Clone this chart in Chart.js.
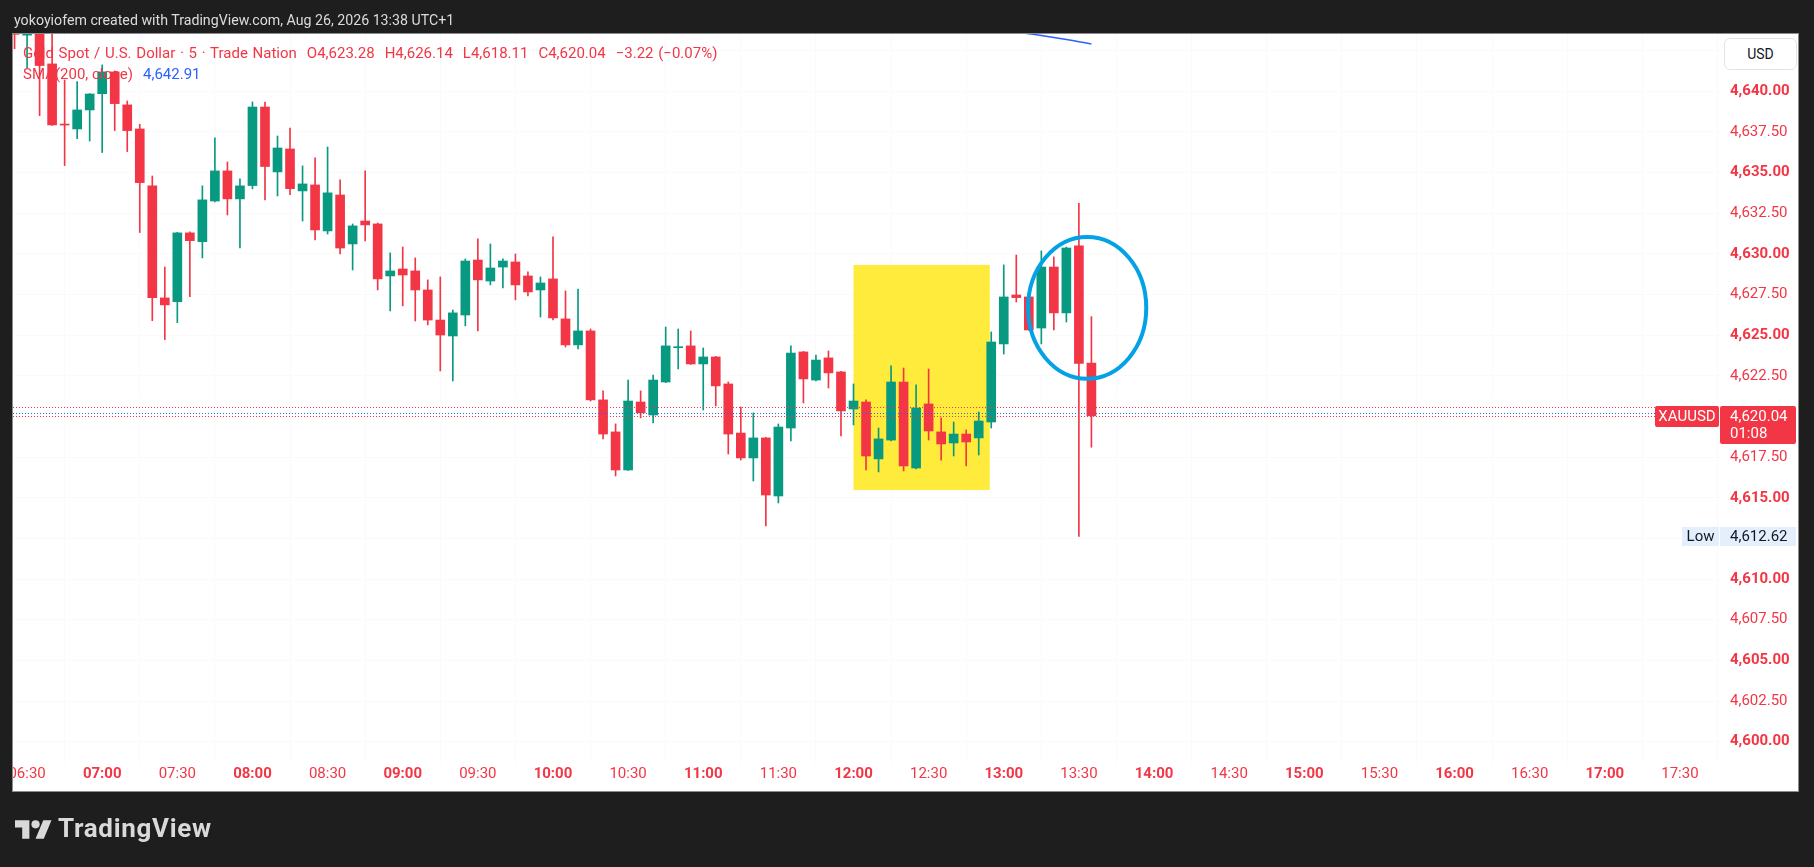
<!DOCTYPE html>
<html>
<head>
<meta charset="utf-8">
<title>XAUUSD 5m</title>
<script src="https://cdn.jsdelivr.net/npm/chart.js@4.4.1/dist/chart.umd.min.js"></script>
<style>
  html, body { margin: 0; padding: 0; background: #1e1e1e; }
  body { width: 1814px; height: 867px; position: relative; overflow: hidden; font-family: Roboto, "Noto Sans", sans-serif; }
  #chart { position: absolute; left: 0; top: 0; }
  .ov { position: absolute; white-space: nowrap; }
  #header { left: 14px; top: 10px; color: #dcdcdc; font-size: 14.2px; line-height: 20px; }
  #legend1, #legend2 { left: 23px; color: #f23645; font-size: 15px; line-height: 18px; }
  #legend1 { top: 44px; word-spacing: 1px; }
  #legend2 { top: 65px; }
  #legend1 span + span, #legend2 span + span { margin-left: 10px; }
  #smaVal { color: #2962ff; }
  #usd { left: 1724px; top: 38px; width: 71px; height: 30px; border: 1px solid #e0e3eb; border-radius: 6px;
         background: #fff; color: #131722; font-size: 14px; line-height: 30px; text-align: center; }
  #logo { left: 15px; top: 815px; color: #d9d9d9; font-size: 26px; line-height: 26px; font-weight: bold; letter-spacing: 0.7px; }
  #logo svg { position: absolute; left: 0; top: 5px; }
  #logo span { position: absolute; left: 43px; top: 0; }
</style>
</head>
<body>
<canvas id="chart" width="1814" height="867"></canvas>
<div class="ov" id="header">yokoyiofem created with TradingView.com, Aug 26, 2026 13:38 UTC+1</div>
<div class="ov" id="legend1"></div>
<div class="ov" id="legend2"></div>
<div class="ov" id="usd">USD</div>
<div class="ov" id="logo">
  <svg width="37" height="19" viewBox="0 4 36 18"><path d="M14 22H7V11H0V4h14v18zM28 22h-8l7.5-18h8L28 22z" fill="#d9d9d9"/><circle cx="20" cy="8" r="4" fill="#d9d9d9"/></svg>
  <span>TradingView</span>
</div>
<script>
// 5 minute candles, Gold Spot / U.S. Dollar
const candleTimes = [
  '06:25','06:30','06:35','06:40','06:45','06:50','06:55',
  '07:00','07:05','07:10','07:15','07:20','07:25','07:30','07:35','07:40','07:45','07:50','07:55',
  '08:00','08:05','08:10','08:15','08:20','08:25','08:30','08:35','08:40','08:45','08:50','08:55',
  '09:00','09:05','09:10','09:15','09:20','09:25','09:30','09:35','09:40','09:45','09:50','09:55',
  '10:00','10:05','10:10','10:15','10:20','10:25','10:30','10:35','10:40','10:45','10:50','10:55',
  '11:00','11:05','11:10','11:15','11:20','11:25','11:30','11:35','11:40','11:45','11:50','11:55',
  '12:00','12:05','12:10','12:15','12:20','12:25','12:30','12:35','12:40','12:45','12:50','12:55',
  '13:00','13:05','13:10','13:15','13:20','13:25','13:30','13:35'
];
const opens = [
  4645.00, 4643.45, 4644.30, 4641.68, 4637.98, 4637.68, 4638.85,
  4639.85, 4641.19, 4639.16, 4637.68, 4634.18, 4627.29, 4627.06, 4631.29, 4630.75, 4633.25, 4635.10, 4633.38,
  4634.20, 4639.03, 4635.04, 4636.45, 4633.87, 4634.24, 4631.41, 4633.62, 4630.61, 4632.02, 4631.84, 4628.64,
  4629.07, 4628.95, 4627.78, 4625.93, 4624.95, 4626.24, 4629.62, 4628.33, 4629.19, 4629.50, 4628.64, 4627.78,
  4628.46, 4626.00, 4624.40, 4625.26, 4621.02, 4619.05, 4616.71, 4620.89, 4620.09, 4622.12, 4624.23, 4624.34,
  4623.23, 4623.66, 4622.00, 4618.98, 4617.45, 4618.68, 4615.11, 4619.29, 4623.97, 4622.24, 4623.60, 4622.74,
  4620.46, 4620.89, 4617.39, 4618.55, 4622.12, 4616.83, 4620.77, 4619.05, 4618.37, 4618.92, 4618.68, 4619.66,
  4624.46, 4627.47, 4627.35, 4625.44, 4629.19, 4626.37, 4630.49, 4623.28
];
const highs = [
  4645.50, 4644.80, 4644.90, 4644.00, 4640.69, 4640.59, 4639.86,
  4641.62, 4641.25, 4639.40, 4637.97, 4634.79, 4629.19, 4631.33, 4631.35, 4634.18, 4637.13, 4635.65, 4634.61,
  4639.34, 4639.34, 4637.25, 4637.74, 4635.41, 4635.90, 4636.57, 4634.55, 4631.84, 4635.10, 4631.90, 4630.06,
  4630.42, 4629.75, 4628.40, 4628.58, 4626.55, 4629.69, 4630.92, 4630.61, 4629.69, 4629.99, 4628.89, 4628.58,
  4631.04, 4627.72, 4627.84, 4625.38, 4621.57, 4619.54, 4622.24, 4621.57, 4622.55, 4625.50, 4625.38, 4625.26,
  4624.21, 4623.70, 4622.12, 4620.58, 4620.22, 4618.72, 4619.54, 4624.34, 4624.00, 4623.78, 4624.03, 4622.78,
  4622.00, 4621.02, 4619.29, 4623.11, 4622.98, 4621.94, 4622.92, 4619.91, 4619.66, 4619.17, 4620.28, 4625.20,
  4629.32, 4629.93, 4627.40, 4630.18, 4629.81, 4630.42, 4633.11, 4626.14
];
const lows = [
  4642.62, 4641.45, 4638.50, 4637.90, 4635.43, 4637.09, 4636.94,
  4636.23, 4637.58, 4636.29, 4631.31, 4625.89, 4624.73, 4625.77, 4627.37, 4629.75, 4633.19, 4632.39, 4630.36,
  4634.00, 4633.32, 4633.56, 4633.64, 4632.02, 4630.85, 4631.22, 4629.99, 4629.01, 4630.79, 4627.78, 4626.49,
  4626.80, 4625.87, 4625.63, 4622.80, 4622.18, 4625.57, 4625.26, 4628.09, 4627.90, 4627.17, 4627.41, 4626.12,
  4625.93, 4624.27, 4624.15, 4620.95, 4618.62, 4616.34, 4616.68, 4619.91, 4619.60, 4622.08, 4622.92, 4623.20,
  4620.40, 4620.65, 4617.69, 4617.32, 4616.03, 4613.27, 4614.68, 4618.49, 4620.83, 4622.18, 4621.75, 4618.80,
  4619.48, 4616.71, 4616.59, 4618.49, 4616.65, 4616.77, 4618.55, 4617.32, 4617.57, 4616.96, 4617.63, 4619.29,
  4623.84, 4627.04, 4625.30, 4624.46, 4625.32, 4625.81, 4612.62, 4618.11
];
const closes = [
  4643.50, 4644.30, 4641.58, 4637.93, 4637.92, 4638.85, 4639.83,
  4641.19, 4639.24, 4637.58, 4634.38, 4627.31, 4626.86, 4631.29, 4630.81, 4633.32, 4635.10, 4633.38, 4634.18,
  4639.03, 4635.37, 4636.51, 4634.01, 4634.30, 4631.47, 4633.75, 4630.36, 4631.72, 4631.78, 4628.46, 4628.95,
  4628.70, 4627.78, 4625.93, 4625.01, 4626.37, 4629.56, 4628.40, 4629.13, 4629.56, 4628.09, 4627.66, 4628.21,
  4626.06, 4624.40, 4625.26, 4621.02, 4618.92, 4616.71, 4620.95, 4620.22, 4622.24, 4624.34, 4624.27, 4623.23,
  4623.66, 4621.88, 4618.92, 4617.45, 4618.68, 4615.17, 4619.35, 4623.90, 4622.31, 4623.47, 4622.68, 4620.34,
  4620.95, 4617.57, 4618.62, 4622.12, 4616.96, 4620.52, 4619.11, 4618.31, 4618.92, 4618.43, 4619.72, 4624.58,
  4627.35, 4627.31, 4625.32, 4629.19, 4626.37, 4630.36, 4623.26, 4620.04
];

// SMA(200, close) - only the tail dips into view
const smaTimes = ['13:00','13:05','13:10','13:15','13:20','13:25','13:30','13:35'];
const smaValues = [4643.80, 4643.66, 4643.54, 4643.43, 4643.31, 4643.18, 4643.05, 4642.91];

// axes
const timeTicks = ['06:30','07:00','07:30','08:00','08:30','09:00','09:30','10:00','10:30','11:00','11:30','12:00',
                   '12:30','13:00','13:30','14:00','14:30','15:00','15:30','16:00','16:30','17:00','17:30'];
const priceTicks = [4600, 4602.5, 4605, 4607.5, 4610, 4612.5, 4615, 4617.5, 4620, 4622.5,
                    4625, 4627.5, 4630, 4632.5, 4635, 4637.5, 4640, 4642.5];
const viewTimes = ['06:24.38', '17:46.0'];
const viewPrices = [4598.69, 4643.52];

// price lines: last, bid, ask
const priceLines = [4620.04, 4620.20, 4620.57];

// drawings
const zoneTimes = ['12:00', '12:54.4'];
const zonePrices = [4615.48, 4629.32];
const circleTimes = ['13:09.7', '13:56.9'];
const circlePrices = [4622.32, 4631.04];

const UP = '#089981';
const DOWN = '#f23645';
const FONT = 'Roboto, "Noto Sans", sans-serif';

function toMin(s) {
  const parts = s.split(':');
  return parseInt(parts[0]) * 60 + parseFloat(parts[1]);
}
function fmt(v) {
  return v.toLocaleString('en-US', { minimumFractionDigits: 2, maximumFractionDigits: 2 });
}

const last = closes.length - 1;
const xs = candleTimes.map(toMin);
const colors = closes.map((c, i) => c >= opens[i] ? UP : DOWN);
const lowest = Math.min(...lows);

// legend text
const change = closes[last] - closes[last - 1];
const pct = change / closes[last - 1] * 100;
const sign = v => (v < 0 ? '\u2212' : '+');
document.getElementById('legend1').innerHTML = [
  'Gold Spot / U.S. Dollar \u00b7 5 \u00b7 Trade Nation',
  'O' + fmt(opens[last]), 'H' + fmt(highs[last]), 'L' + fmt(lows[last]), 'C' + fmt(closes[last]),
  sign(change) + fmt(Math.abs(change)) + ' (' + sign(pct) + fmt(Math.abs(pct)) + '%)'
].map(t => '<span>' + t + '</span>').join('');
document.getElementById('legend2').innerHTML =
  '<span>SMA(200, close)</span><span id="smaVal">' + fmt(smaValues[smaValues.length - 1]) + '</span>';

const tvPlugin = {
  id: 'tv',
  beforeDraw(chart) {
    const c = chart.ctx;
    c.save();
    c.fillStyle = '#1e1e1e';
    c.fillRect(0, 0, chart.width, chart.height);
    c.fillStyle = '#ffffff';
    c.fillRect(13, 34, 1785, 757);
    c.restore();
  },
  beforeDatasetsDraw(chart) {
    const { ctx, chartArea: a, scales: { x, y } } = chart;
    ctx.save();
    ctx.beginPath();
    ctx.rect(a.left, a.top, a.right - a.left, a.bottom - a.top);
    ctx.clip();
    const x0 = x.getPixelForValue(toMin(zoneTimes[0]));
    const x1 = x.getPixelForValue(toMin(zoneTimes[1]));
    const y0 = y.getPixelForValue(zonePrices[1]);
    const y1 = y.getPixelForValue(zonePrices[0]);
    ctx.fillStyle = '#ffeb3b';
    ctx.fillRect(x0, y0, x1 - x0, y1 - y0);
    ctx.restore();
  },
  afterDatasetsDraw(chart) {
    const { ctx, chartArea: a, scales: { x, y } } = chart;
    ctx.save();
    ctx.beginPath();
    ctx.rect(a.left, a.top, a.right - a.left, a.bottom - a.top);
    ctx.clip();
    // dotted price lines
    const lineColors = [DOWN, '#2962ff', DOWN];
    ctx.lineWidth = 1;
    ctx.setLineDash([1, 2]);
    priceLines.forEach((p, i) => {
      const py = Math.round(y.getPixelForValue(p)) + 0.5;
      ctx.strokeStyle = lineColors[i];
      ctx.beginPath();
      ctx.moveTo(a.left, py);
      ctx.lineTo(a.right, py);
      ctx.stroke();
    });
    ctx.setLineDash([]);
    // circle drawing
    const cx0 = x.getPixelForValue(toMin(circleTimes[0]));
    const cx1 = x.getPixelForValue(toMin(circleTimes[1]));
    const cy0 = y.getPixelForValue(circlePrices[1]);
    const cy1 = y.getPixelForValue(circlePrices[0]);
    ctx.strokeStyle = '#03a2e6';
    ctx.lineWidth = 4;
    ctx.beginPath();
    ctx.ellipse((cx0 + cx1) / 2, (cy0 + cy1) / 2, (cx1 - cx0) / 2, (cy1 - cy0) / 2, 0, 0, Math.PI * 2);
    ctx.stroke();
    ctx.restore();
  },
  afterDraw(chart) {
    const { ctx, chartArea: a, scales: { y } } = chart;
    ctx.save();
    // cut the time labels at the panel edge
    ctx.fillStyle = '#1e1e1e';
    ctx.fillRect(0, 30, 13, 765);
    ctx.strokeStyle = '#8c8c8c';
    ctx.lineWidth = 1;
    ctx.strokeRect(12.5, 33.5, 1786, 758);

    ctx.textBaseline = 'middle';
    ctx.font = '15px ' + FONT;
    // last price tag
    const yl = Math.round(y.getPixelForValue(closes[last]));
    ctx.fillStyle = DOWN;
    ctx.beginPath();
    ctx.roundRect(a.right - 65, yl - 10, 64, 21, 2);
    ctx.fill();
    ctx.beginPath();
    ctx.roundRect(a.right, yl - 10, 76, 38, 2);
    ctx.fill();
    ctx.fillStyle = '#ffffff';
    ctx.textAlign = 'center';
    ctx.fillText('XAUUSD', a.right - 33, yl + 1);
    ctx.textAlign = 'left';
    ctx.fillText(fmt(closes[last]), a.right + 10, yl + 1);
    ctx.fillText('01:08', a.right + 10, yl + 18);
    // low tag
    const ylo = Math.round(y.getPixelForValue(lowest));
    ctx.fillStyle = '#e3effd';
    ctx.fillRect(a.right - 38, ylo - 9, 37, 19);
    ctx.fillRect(a.right, ylo - 9, 76, 19);
    ctx.fillStyle = '#131722';
    ctx.textAlign = 'center';
    ctx.fillText('Low', a.right - 19.5, ylo + 1);
    ctx.textAlign = 'left';
    ctx.fillText(fmt(lowest), a.right + 10, ylo + 1);
    ctx.restore();
  }
};

const ctx = document.getElementById('chart').getContext('2d');
const chart = new Chart(ctx, {
  type: 'bar',
  data: {
    datasets: [
      {
        type: 'line',
        label: 'SMA (200, close)',
        data: smaTimes.map((t, i) => ({ x: toMin(t), y: smaValues[i] })),
        borderColor: '#2962ff',
        borderWidth: 1.5,
        pointRadius: 0,
        tension: 0.4,
        clip: 0,
        order: 0
      },
      {
        label: 'Body',
        data: xs.map((x, i) => ({ x: x, y: [opens[i], closes[i]] })),
        backgroundColor: colors,
        barThickness: 9,
        minBarLength: 1,
        grouped: false,
        clip: 0,
        order: 1
      },
      {
        label: 'Wick',
        data: xs.map((x, i) => ({ x: x, y: [lows[i], highs[i]] })),
        backgroundColor: colors,
        barThickness: 1,
        grouped: false,
        clip: 0,
        order: 2
      }
    ]
  },
  options: {
    responsive: false,
    animation: false,
    devicePixelRatio: 1,
    events: [],
    layout: { padding: { left: 13, top: 34, right: 14, bottom: 76 } },
    plugins: {
      legend: { display: false },
      tooltip: { enabled: false }
    },
    scales: {
      x: {
        type: 'linear',
        min: toMin(viewTimes[0]),
        max: toMin(viewTimes[1]),
        offset: false,
        border: { display: false },
        grid: { color: '#fafafa', drawTicks: false },
        afterBuildTicks: scale => { scale.ticks = timeTicks.map(t => ({ value: toMin(t) })); },
        afterFit: scale => { scale.height = 28; },
        ticks: {
          autoSkip: false,
          maxRotation: 0,
          padding: 2,
          color: DOWN,
          font: c => ({ family: FONT, size: 15, weight: (c.tick && c.tick.value % 60 === 0) ? 'bold' : 'normal' }),
          callback: (value, index) => timeTicks[index]
        }
      },
      y: {
        type: 'linear',
        position: 'right',
        min: viewPrices[0],
        max: viewPrices[1],
        border: { display: false },
        grid: { color: '#fafafa', drawTicks: false },
        afterBuildTicks: scale => { scale.ticks = priceTicks.map(v => ({ value: v })); },
        afterFit: scale => { scale.width = 80; },
        ticks: {
          autoSkip: false,
          padding: 10,
          color: DOWN,
          font: c => ({ family: FONT, size: 15, weight: (c.tick && c.tick.value % 5 === 0) ? 'bold' : 'normal' }),
          callback: value => fmt(value)
        }
      }
    }
  },
  plugins: [tvPlugin]
});
</script>
</body>
</html>
